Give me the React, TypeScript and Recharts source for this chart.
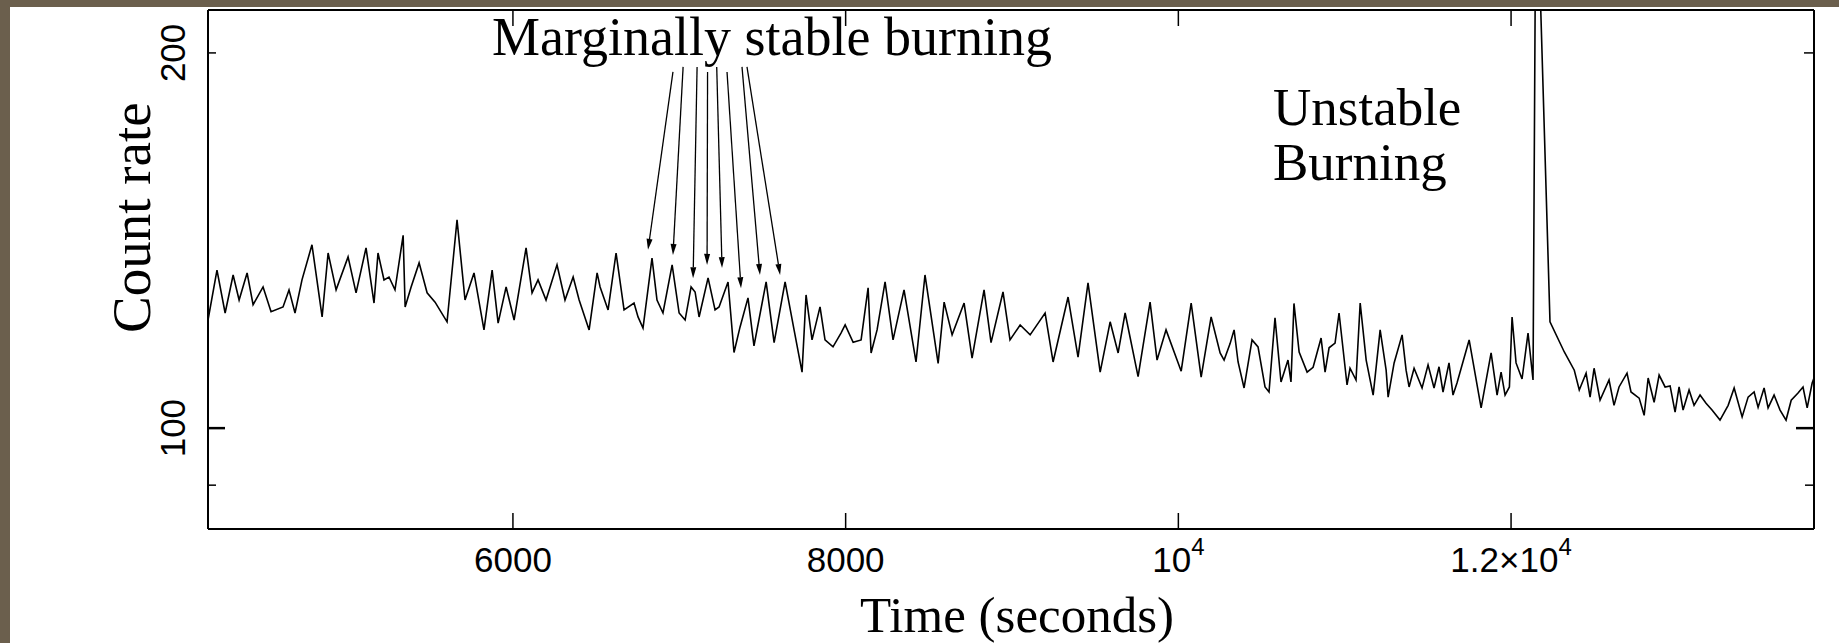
import React from "react";
import { LineChart, Line, XAxis, YAxis, ReferenceLine } from "recharts";

// light curve: time (s) and count rate
const times = [
  4167, 4221, 4270, 4318, 4354, 4402, 4438, 4498, 4546, 4618, 4654, 4690, 4732, 4792, 4853, 4889, 4937, 5009, 5057, 5117,
  5165, 5189, 5225, 5255, 5291, 5340, 5352, 5388, 5436, 5484, 5532, 5604, 5664, 5712, 5766, 5826, 5875, 5911, 5959, 6007,
  6079, 6115, 6151, 6199, 6265, 6313, 6362, 6398, 6458, 6506,
  6524, 6572, 6620, 6668, 6728, 6752, 6782, 6836, 6866, 6902, 6957, 6999, 7035, 7071, 7095, 7119, 7173, 7215, 7239, 7293,
  7329, 7365, 7413, 7449, 7522, 7570, 7636, 7690, 7738, 7762,
  7798, 7846, 7876, 7924, 7972, 7997, 8045, 8093, 8135, 8153, 8189, 8237, 8285, 8351, 8423, 8477, 8556, 8592, 8640, 8712,
  8760, 8832, 8874, 8946, 8988, 9049, 9109, 9199, 9247, 9337, 9397, 9457, 9530, 9590, 9638, 9680, 9758, 9830, 9872, 9926,
  10017, 10077, 10137, 10197, 10251,
  10275, 10311, 10335, 10359, 10395, 10443, 10479, 10521, 10545, 10581, 10617, 10659, 10677, 10695, 10726, 10774, 10810,
  10858, 10882, 10906, 10942, 10966, 11014, 11032, 11068, 11093, 11129, 11171, 11213, 11249, 11261, 11297, 11345, 11369,
  11387, 11417, 11465, 11501, 11537, 11567, 11591, 11627, 11651, 11675, 11748, 11820, 11880, 11916, 11940, 11964, 11990,
  12006, 12030, 12066, 12102, 12132, 12150, 12234, 12320, 12380, 12410, 12451, 12475, 12499, 12535, 12589, 12619,
  12649, 12697, 12721, 12770, 12800, 12824, 12860, 12890, 12926, 12956, 12986, 13010, 13034, 13070, 13100, 13136, 13172,
  13208, 13256, 13305, 13341, 13389, 13425, 13461, 13485, 13521, 13545, 13581, 13617, 13653, 13684, 13725, 13755, 13780,
  13810, 13821,
];
const counts = [
  122.1, 133.9, 123.7, 132.7, 126.7, 133.2, 125.6, 129.8, 124.0, 125.1, 129.1, 123.7, 131.5, 140.3, 122.8, 138.2, 129.1, 137.2, 128.4, 139.5,
  126.0, 138.2, 131.5, 132.2, 129.1, 142.8, 125.1, 129.8, 135.7, 128.4, 126.2, 121.7, 146.9, 126.7, 133.2, 119.9, 133.9, 121.4, 129.8, 122.1,
  139.5, 128.4, 131.5, 126.7, 135.2, 126.7, 132.2, 126.7, 119.9, 133.2,
  129.8, 124.4, 138.2, 124.4, 126.0, 122.8, 120.3, 136.9, 126.7, 123.7, 135.2, 123.7, 122.1, 129.8, 128.6, 122.8, 132.0, 124.4, 125.1, 131.0,
  115.0, 120.5, 127.2, 116.4, 131.0, 117.1, 131.0, 119.9, 110.9, 127.9,
  117.7, 125.1, 117.7, 116.2, 119.2, 121.0, 117.2, 117.7, 129.6, 114.9, 119.9, 131.0, 117.7, 129.1, 113.0, 132.7, 112.7, 126.2, 118.8, 126.0,
  113.8, 129.1, 117.1, 128.6, 117.7, 121.0, 118.8, 123.7, 113.0, 127.4, 114.0, 130.8, 110.9, 121.7, 114.9, 123.7, 110.0, 126.2, 113.4, 119.9,
  111.1, 126.0, 109.9, 122.8, 114.9,
  113.4, 116.9, 119.9, 113.0, 107.7, 117.7, 116.2, 107.9, 106.9, 122.6, 108.9, 113.4, 108.9, 125.9, 115.1, 110.9, 111.9,
  118.1, 110.9, 116.0, 117.0, 123.7, 108.3, 111.7, 109.3, 126.0, 113.4, 106.3, 119.9, 111.3, 105.9, 112.8, 118.8, 111.3,
  107.9, 111.7, 107.7, 112.4, 107.7, 112.0, 106.9, 112.8, 106.3, 108.7, 117.7, 103.8, 114.9, 106.3, 110.9, 106.3, 107.9,
  122.8, 112.8, 109.5, 119.2, 109.3, 291, 121.7, 115.1, 111.3, 107.3, 110.7, 105.9, 111.7, 105.3, 109.3, 104.3,
  107.9, 110.7, 106.9, 105.7, 102.4, 109.7, 104.9, 110.3, 107.9, 108.1, 103.0, 107.9, 103.4, 107.3, 104.3, 106.3, 104.7,
  103.4, 101.5, 104.3, 107.7, 102.1, 105.9, 106.9, 103.9, 107.7, 103.8, 106.3, 103.4, 101.5, 105.3, 106.7, 107.9, 103.8,
  108.7, 109.7,
];

const xTicks = [6000, 8000, 10000, 12000];
const xTickLabels = ["6000", "8000", "10^4", "1.2×10^4"];
const yTicks = [90, 100, 200];
const yTickLabels = ["", "100", "200"];

// arrows from the "Marginally stable burning" label down to the peaks
const arrowFromT = [6962, 7023, 7107, 7170, 7225, 7287, 7377, 7407];
const arrowFromC = [193.1, 194.9, 194.9, 193.1, 194.9, 193.1, 194.9, 194.9];
const arrowToT = [6812, 6962, 7083, 7167, 7257, 7371, 7485, 7606];
const arrowToC = [139.0, 137.7, 131.9, 135.2, 134.4, 129.5, 132.7, 132.7];

const data = times.map((t, i) => ({ t, c: counts[i] }));

const SANS = "'Liberation Sans', Arial, Helvetica, sans-serif";
const SERIF = "'Liberation Serif', 'Times New Roman', serif";

const BottomTick = (props: any) => {
  const { x, y, payload } = props;
  const lab = xTickLabels[xTicks.indexOf(payload.value)] ?? "";
  const [base, exp] = lab.split("^");
  return (
    <g>
      <line x1={x} y1={y} x2={x} y2={y - 16} stroke="#000" strokeWidth={1.5} />
      <text x={x} y={y + 43} textAnchor="middle" fontFamily={SANS} fontSize={35} fill="#000">
        {base}
        {exp && (
          <tspan fontSize={24} dy={-17}>
            {exp}
          </tspan>
        )}
      </text>
    </g>
  );
};

const TopTick = (props: any) => {
  const { x, y } = props;
  return <line x1={x} y1={y} x2={x} y2={y + 16} stroke="#000" strokeWidth={1.5} />;
};

const LeftTick = (props: any) => {
  const { x, y, payload } = props;
  const v = payload.value;
  const lab = yTickLabels[yTicks.indexOf(v)] ?? "";
  const len = v === 100 ? 17 : 8;
  return (
    <g>
      <line x1={x} y1={y} x2={x + len} y2={y} stroke="#000" strokeWidth={v === 100 ? 2.5 : 1.5} />
      {lab && (
        <text
          transform={`translate(${x - 23},${y}) rotate(-90)`}
          textAnchor="middle"
          fontFamily={SANS}
          fontSize={35}
          fill="#000"
        >
          {lab}
        </text>
      )}
    </g>
  );
};

const RightTick = (props: any) => {
  const { x, y, payload } = props;
  const v = payload.value;
  const len = v === 100 ? 18 : v === 200 ? 10 : 9;
  return <line x1={x} y1={y} x2={x - len} y2={y} stroke="#000" strokeWidth={v === 100 ? 2.5 : 1.5} />;
};

const Arrow = (p: any) => {
  const { x1, y1, x2, y2 } = p;
  const a = Math.atan2(y2 - y1, x2 - x1);
  const L = 11;
  const W = 3;
  const bx = x2 - L * Math.cos(a);
  const by = y2 - L * Math.sin(a);
  const pts = `${x2},${y2} ${bx - W * Math.sin(a)},${by + W * Math.cos(a)} ${bx + W * Math.sin(a)},${by - W * Math.cos(a)}`;
  return (
    <g>
      <line x1={x1} y1={y1} x2={bx} y2={by} stroke="#000" strokeWidth={1.3} />
      <polygon points={pts} fill="#000" />
    </g>
  );
};

export default function App() {
  const xDomain: [number, number] = [4167, 13821];
  const yDomain: [number, number] = [83, 216.5];
  const axisLine = { stroke: "#000", strokeWidth: 2 };
  return (
    <div
      style={{
        position: "absolute",
        left: 0,
        top: 0,
        width: 1839,
        height: 643,
        background: "#6b5f4d",
        overflow: "hidden",
      }}
    >
      <div style={{ position: "absolute", left: 10, top: 7, width: 1829, height: 636, background: "#fff" }} />
      <div style={{ position: "absolute", left: 0, top: 0 }}>
        <LineChart width={1839} height={643} data={data} margin={{ top: 9, right: 24, bottom: 113, left: 207 }}>
          <XAxis
            xAxisId="b"
            dataKey="t"
            type="number"
            domain={xDomain}
            allowDataOverflow
            ticks={xTicks}
            interval={0}
            height={1}
            tickSize={0}
            tickMargin={0}
            tickLine={false}
            tick={<BottomTick />}
            axisLine={axisLine}
          />
          <XAxis
            xAxisId="t"
            orientation="top"
            dataKey="t"
            type="number"
            domain={xDomain}
            allowDataOverflow
            ticks={xTicks}
            interval={0}
            height={1}
            tickSize={0}
            tickMargin={0}
            tickLine={false}
            tick={<TopTick />}
            axisLine={axisLine}
          />
          <YAxis
            yAxisId="l"
            type="number"
            scale="log"
            domain={yDomain}
            allowDataOverflow
            ticks={yTicks}
            interval={0}
            width={1}
            tickSize={0}
            tickMargin={0}
            tickLine={false}
            tick={<LeftTick />}
            axisLine={axisLine}
          />
          <YAxis
            yAxisId="r"
            orientation="right"
            type="number"
            scale="log"
            domain={yDomain}
            allowDataOverflow
            ticks={yTicks}
            interval={0}
            width={1}
            tickSize={0}
            tickMargin={0}
            tickLine={false}
            tick={<RightTick />}
            axisLine={axisLine}
          />
          <Line
            xAxisId="b"
            yAxisId="l"
            dataKey="c"
            type="linear"
            stroke="#000"
            strokeWidth={1.6}
            dot={false}
            activeDot={false}
            isAnimationActive={false}
          />
          {arrowFromT.map((t, i) => (
            <ReferenceLine
              key={i}
              xAxisId="b"
              yAxisId="l"
              ifOverflow="visible"
              segment={[
                { x: t, y: arrowFromC[i] },
                { x: arrowToT[i], y: arrowToC[i] },
              ]}
              shape={Arrow}
            />
          ))}
        </LineChart>
      </div>
      <svg width={1839} height={643} style={{ position: "absolute", left: 0, top: 0, pointerEvents: "none" }}>
        <g fontFamily={SERIF} fill="#000">
          <text x={492} y={55} fontSize={54}>
            Marginally stable burning
          </text>
          <text x={1273} y={125} fontSize={53}>
            Unstable
          </text>
          <text x={1273} y={180} fontSize={53}>
            Burning
          </text>
          <text x={1017} y={632} fontSize={51} textAnchor="middle">
            Time (seconds)
          </text>
          <text transform="translate(150,333) rotate(-90)" fontSize={55}>
            Count rate
          </text>
        </g>
      </svg>
    </div>
  );
}
